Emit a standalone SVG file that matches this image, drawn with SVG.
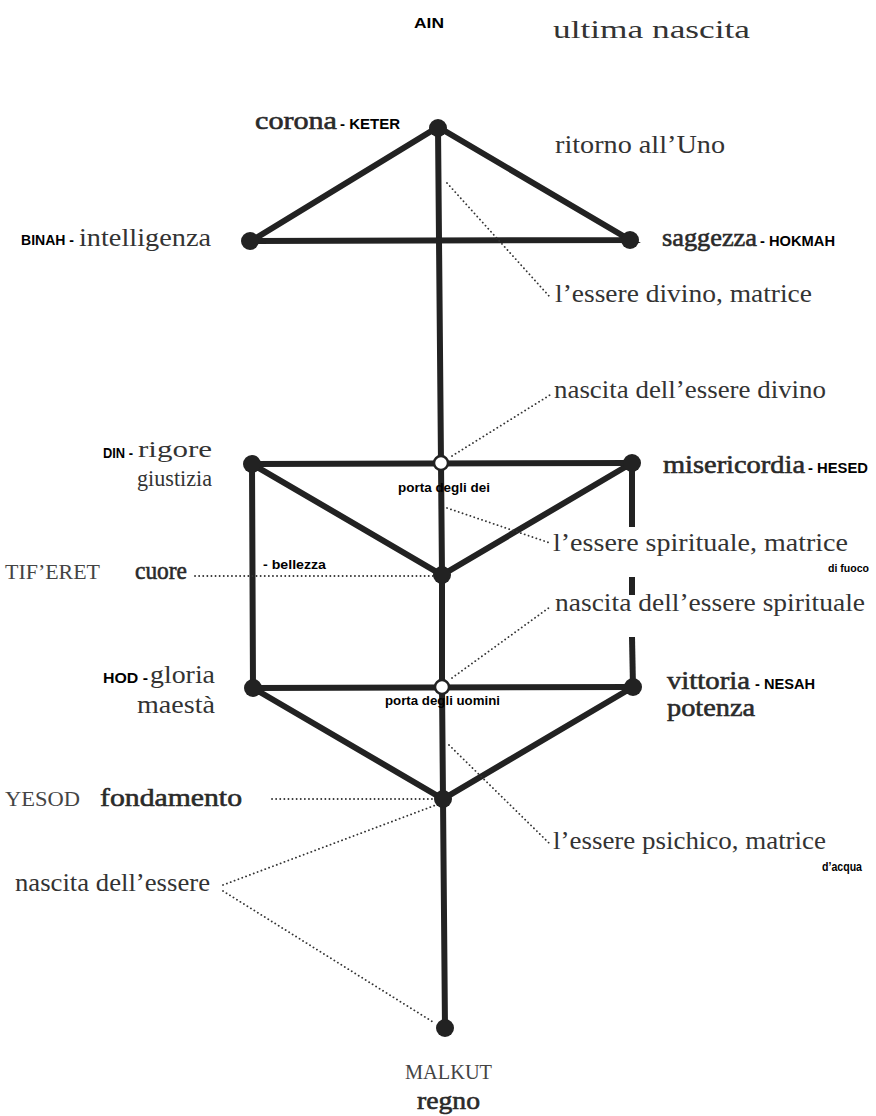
<svg xmlns="http://www.w3.org/2000/svg" width="876" height="1116" viewBox="0 0 876 1116">
<style>
.edge{stroke:#222;stroke-width:6;fill:none;stroke-linecap:round}
.bar{stroke:#222;stroke-width:6;fill:none;stroke-linecap:butt}
.dot{stroke:#333;stroke-width:1.8;fill:none;stroke-dasharray:0.1 4;stroke-linecap:round}
.node{fill:#222}
.gate{fill:#fff;stroke:#222;stroke-width:2.5}
.s{font-family:"Liberation Serif",serif;font-size:26px;fill:#333}
.sb{font-family:"Liberation Serif",serif;font-size:26px;fill:#2a2a2a;stroke:#2a2a2a;stroke-width:0.6}
.cap{font-family:"Liberation Serif",serif;font-size:20px;fill:#444}
.a{font-family:"Liberation Sans",Arial,sans-serif;font-size:14px;font-weight:bold;fill:#000}
.p{font-family:"Liberation Sans",Arial,sans-serif;font-size:13px;font-weight:bold;fill:#000}
.sm{font-size:11px}
.s24{font-size:24px}
</style>
<rect width="876" height="1116" fill="#fff"/>
<g id="connectors">
<polyline class="edge" points="438,127 441,463 442,575 442,687 443,799 445,1028"/>
<polyline class="edge" points="251,241 438,127 630,240 251,241"/>
<line class="edge" x1="252" y1="464" x2="632" y2="463"/>
<polyline class="edge" points="252,464 442,575 632,463"/>
<line class="edge" x1="252" y1="464" x2="253" y2="688"/>
<line class="edge" x1="253" y1="688" x2="633" y2="687"/>
<polyline class="edge" points="253,688 443,799 633,687"/>
<line class="bar" x1="632" y1="463" x2="632" y2="527"/>
<line class="bar" x1="632" y1="577" x2="632" y2="595"/>
<line class="bar" x1="632" y1="637" x2="633" y2="687"/>
<line class="dot" x1="447" y1="183" x2="549" y2="296"/>
<line class="dot" x1="452" y1="456" x2="550" y2="395"/>
<line class="dot" x1="447" y1="508" x2="550" y2="543"/>
<line class="dot" x1="195" y1="576" x2="437" y2="576"/>
<line class="dot" x1="452" y1="678" x2="550" y2="607"/>
<line class="dot" x1="449" y1="745" x2="551" y2="845"/>
<line class="dot" x1="272" y1="799" x2="437" y2="799"/>
<line class="dot" x1="223" y1="885" x2="436" y2="805"/>
<line class="dot" x1="223" y1="891" x2="433" y2="1022"/>
</g>
<g id="ain">
<text class="a" x="414" y="28" textLength="30" lengthAdjust="spacingAndGlyphs">AIN</text>
<text class="s" x="553" y="38" textLength="197" lengthAdjust="spacingAndGlyphs">ultima nascita</text>
</g>
<g id="keter">
<circle class="node" cx="438" cy="128" r="9"/>
<text class="sb" x="255" y="129" textLength="82" lengthAdjust="spacingAndGlyphs">corona</text>
<text class="a" x="340" y="129" textLength="60" lengthAdjust="spacingAndGlyphs">- KETER</text>
<text class="s" x="555" y="153" textLength="170" lengthAdjust="spacingAndGlyphs">ritorno all’Uno</text>
</g>
<g id="binah">
<circle class="node" cx="250" cy="241" r="9"/>
<text class="a" x="21" y="245" textLength="53" lengthAdjust="spacingAndGlyphs">BINAH -</text>
<text class="s" x="79" y="246" textLength="132" lengthAdjust="spacingAndGlyphs">intelligenza</text>
</g>
<g id="hokmah">
<circle class="node" cx="630" cy="240" r="9"/>
<text class="sb" x="662" y="246" textLength="95" lengthAdjust="spacingAndGlyphs">saggezza</text>
<text class="a" x="760" y="246" textLength="75" lengthAdjust="spacingAndGlyphs">- HOKMAH</text>
</g>
<g id="matrice-divina">
<text class="s" x="555" y="302" textLength="257" lengthAdjust="spacingAndGlyphs">l’essere divino, matrice</text>
</g>
<g id="nascita-divino">
<text class="s" x="554" y="398" textLength="272" lengthAdjust="spacingAndGlyphs">nascita dell’essere divino</text>
</g>
<g id="din">
<circle class="node" cx="252" cy="464" r="9"/>
<text class="a" x="103" y="458" textLength="30" lengthAdjust="spacingAndGlyphs">DIN -</text>
<text class="s s24" x="138" y="457" textLength="74" lengthAdjust="spacingAndGlyphs">rigore</text>
<text class="s s24" x="137" y="486" textLength="75" lengthAdjust="spacingAndGlyphs">giustizia</text>
</g>
<g id="porta-dei">
<circle class="gate" cx="441" cy="463" r="7"/>
<text class="p" x="398" y="492" textLength="92" lengthAdjust="spacingAndGlyphs">porta degli dei</text>
</g>
<g id="hesed">
<circle class="node" cx="632" cy="463" r="9"/>
<text class="sb" x="663" y="473" textLength="142" lengthAdjust="spacingAndGlyphs">misericordia</text>
<text class="a" x="808" y="473" textLength="60" lengthAdjust="spacingAndGlyphs">- HESED</text>
</g>
<g id="matrice-spirituale">
<text class="s" x="553" y="551" textLength="295" lengthAdjust="spacingAndGlyphs">l’essere spirituale, matrice</text>
<text class="p sm" x="828" y="572" textLength="41" lengthAdjust="spacingAndGlyphs">di fuoco</text>
</g>
<g id="tiferet">
<circle class="node" cx="442" cy="575" r="9"/>
<text class="cap" x="5" y="579" textLength="95" lengthAdjust="spacingAndGlyphs">TIF’ERET</text>
<text class="sb" x="135" y="579" textLength="52" lengthAdjust="spacingAndGlyphs">cuore</text>
<text class="p" x="263" y="569" textLength="63" lengthAdjust="spacingAndGlyphs">- bellezza</text>
</g>
<g id="nascita-spirituale">
<text class="s" x="555" y="611" textLength="310" lengthAdjust="spacingAndGlyphs">nascita dell’essere spirituale</text>
</g>
<g id="hod">
<circle class="node" cx="253" cy="688" r="9"/>
<text class="a" x="103" y="683" textLength="45" lengthAdjust="spacingAndGlyphs">HOD -</text>
<text class="s" x="150" y="683" textLength="65" lengthAdjust="spacingAndGlyphs">gloria</text>
<text class="s" x="137" y="713" textLength="78" lengthAdjust="spacingAndGlyphs">maestà</text>
</g>
<g id="porta-uomini">
<circle class="gate" cx="442" cy="687" r="7"/>
<text class="p" x="385" y="705" textLength="115" lengthAdjust="spacingAndGlyphs">porta degli uomini</text>
</g>
<g id="nesah">
<circle class="node" cx="633" cy="687" r="9"/>
<text class="sb" x="667" y="689" textLength="83" lengthAdjust="spacingAndGlyphs">vittoria</text>
<text class="a" x="755" y="689" textLength="60" lengthAdjust="spacingAndGlyphs">- NESAH</text>
<text class="sb" x="667" y="716" textLength="88" lengthAdjust="spacingAndGlyphs">potenza</text>
</g>
<g id="yesod">
<circle class="node" cx="443" cy="799" r="9"/>
<text class="cap" x="5" y="806" textLength="75" lengthAdjust="spacingAndGlyphs">YESOD</text>
<text class="sb" x="100" y="806" textLength="142" lengthAdjust="spacingAndGlyphs">fondamento</text>
</g>
<g id="matrice-psichica">
<text class="s" x="553" y="849" textLength="273" lengthAdjust="spacingAndGlyphs">l’essere psichico, matrice</text>
<text class="p" x="822" y="871" textLength="40" lengthAdjust="spacingAndGlyphs">d’acqua</text>
</g>
<g id="nascita-essere">
<text class="s" x="15" y="891" textLength="195" lengthAdjust="spacingAndGlyphs">nascita dell’essere</text>
</g>
<g id="malkut">
<circle class="node" cx="445" cy="1028" r="9"/>
<text class="cap" x="405" y="1079" textLength="87" lengthAdjust="spacingAndGlyphs">MALKUT</text>
<text class="sb" x="417" y="1109" textLength="63" lengthAdjust="spacingAndGlyphs">regno</text>
</g>
</svg>
